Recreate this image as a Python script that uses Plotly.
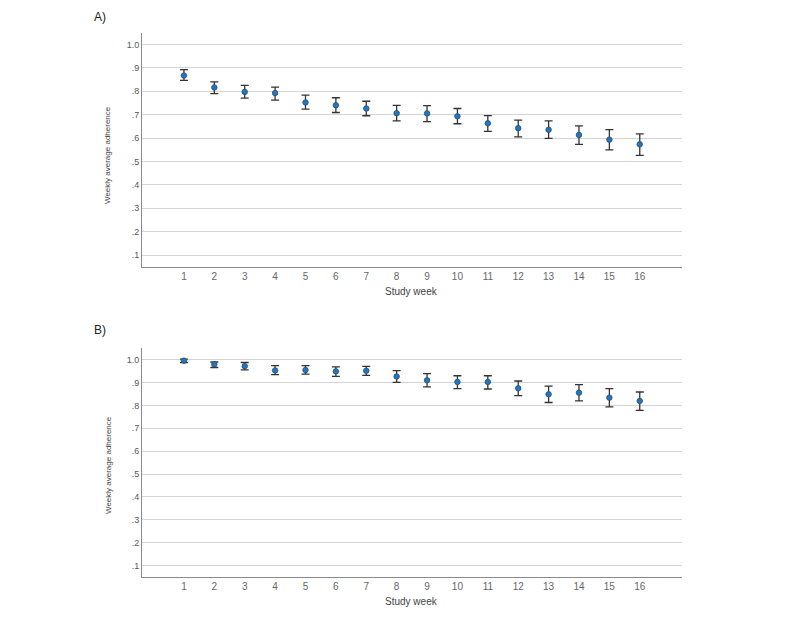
import plotly.graph_objects as go

weeks = list(range(1, 17))

# Panel A
a_mean = [0.867, 0.816, 0.797, 0.792, 0.752, 0.740, 0.726, 0.706,
          0.705, 0.693, 0.663, 0.642, 0.635, 0.613, 0.593, 0.573]
a_upper = [0.892, 0.840, 0.825, 0.817, 0.783, 0.772, 0.757, 0.739,
           0.738, 0.726, 0.696, 0.676, 0.673, 0.652, 0.636, 0.618]
a_lower = [0.846, 0.790, 0.770, 0.762, 0.723, 0.709, 0.695, 0.673,
           0.670, 0.661, 0.628, 0.605, 0.598, 0.573, 0.549, 0.526]

# Panel B
b_mean = [0.996, 0.980, 0.972, 0.953, 0.955, 0.949, 0.952, 0.927,
          0.910, 0.903, 0.903, 0.875, 0.849, 0.856, 0.834, 0.820]
b_upper = [1.003, 0.990, 0.988, 0.974, 0.974, 0.969, 0.971, 0.952,
           0.939, 0.930, 0.930, 0.907, 0.885, 0.891, 0.874, 0.859]
b_lower = [0.987, 0.966, 0.956, 0.935, 0.937, 0.927, 0.932, 0.901,
           0.881, 0.874, 0.872, 0.843, 0.813, 0.820, 0.794, 0.779]

y_tickvals = [0.1, 0.2, 0.3, 0.4, 0.5, 0.6, 0.7, 0.8, 0.9, 1.0]
y_ticktext = [".1", ".2", ".3", ".4", ".5", ".6", ".7", ".8", ".9", "1.0"]
x_ticktext = [str(w) for w in weeks]

W, H = 784, 607   # page body has an 8px margin
OX, OY = 8, 8
FONT = "Liberation Sans"


def px(x):
    return (x - OX) / W


def py(y):
    return 1 - (y - OY) / H


def trace(mean, upper, lower, xa, ya):
    return go.Scatter(
        x=weeks, y=mean, mode="markers", xaxis=xa, yaxis=ya,
        marker=dict(color="#1b78c8", size=5.5, line=dict(color="#34495e", width=0.8)),
        error_y=dict(type="data", symmetric=False,
                     array=[u - m for u, m in zip(upper, mean)],
                     arrayminus=[m - l for m, l in zip(mean, lower)],
                     color="#333333", thickness=1.3, width=4),
        showlegend=False, hoverinfo="x+y")


fig = go.Figure()
fig.add_trace(trace(a_mean, a_upper, a_lower, "x", "y"))
fig.add_trace(trace(b_mean, b_upper, b_lower, "x2", "y2"))

xd = [px(142), px(682)]
ya_dom = [py(266.7), py(32.7)]
yb_dom = [py(577), py(348.3)]

xcommon = dict(range=[-0.38, 17.39], tickvals=weeks, ticktext=x_ticktext,
               showgrid=False, zeroline=False, showline=True, linecolor="#8a8a8a",
               linewidth=1, ticks="", tickfont=dict(family=FONT, size=10, color="#666666"),
               domain=xd, fixedrange=True)
ycommon = dict(range=[0.05, 1.05], tickvals=y_tickvals, ticktext=y_ticktext,
               showgrid=True, gridcolor="#d4d4d4", gridwidth=1, zeroline=False,
               showline=True, linecolor="#8a8a8a", linewidth=1, ticks="",
               tickfont=dict(family=FONT, size=9, color="#555555"), fixedrange=True)

fig.update_layout(
    width=W, height=H,
    margin=dict(l=0, r=0, t=0, b=0),
    paper_bgcolor="white", plot_bgcolor="white",
    font=dict(family=FONT, color="#333333"),
    xaxis=dict(**xcommon, anchor="y"),
    yaxis=dict(**ycommon, domain=ya_dom, anchor="x"),
    xaxis2=dict(**xcommon, anchor="y2"),
    yaxis2=dict(**ycommon, domain=yb_dom, anchor="x2"),
)

ann = []
for label, yy in [("A)", 16.7), ("B)", 329.5)]:
    ann.append(dict(text=label, x=px(92), y=py(yy), xref="paper", yref="paper",
                    xanchor="left", yanchor="middle", showarrow=False,
                    font=dict(family=FONT, size=12, color="#222222")))
for yy in [291, 601.5]:
    ann.append(dict(text="Study week", x=px(411), y=py(yy), xref="paper", yref="paper",
                    xanchor="center", yanchor="middle", showarrow=False,
                    font=dict(family=FONT, size=10, color="#444444")))
for yy in [155, 465]:
    ann.append(dict(text="Weekly average adherence", x=px(108), y=py(yy),
                    xref="paper", yref="paper", xanchor="center", yanchor="middle",
                    textangle=-90, showarrow=False,
                    font=dict(family=FONT, size=8, color="#444444")))
fig.update_layout(annotations=ann)

fig.write_html("out.html")
